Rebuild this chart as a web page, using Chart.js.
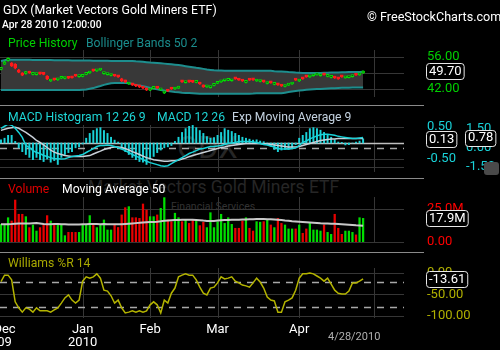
<!DOCTYPE html>
<html>
<head>
<meta charset="utf-8">
<title>GDX</title>
<script src="https://cdn.jsdelivr.net/npm/chart.js@4.4.1/dist/chart.umd.min.js"></script>
<style>
  html, body { margin: 0; padding: 0; background: #000; }
  #wrap { position: relative; width: 500px; height: 350px; overflow: hidden; background: #000;
          font-family: Roboto, "Liberation Sans", Arial, sans-serif; }
  #wrap canvas { position: absolute; left: 0; top: 0; }
  .t { position: absolute; white-space: nowrap; line-height: 1; }
  .sep { position: absolute; left: 0; width: 424px; height: 1px; background: #8a8a8a; }
  .wm { position: absolute; white-space: nowrap; line-height: 1; color: #262626; }
</style>
</head>
<body>
<div id="wrap">
  <!-- watermarks sit under the plots -->
  <div class="wm" style="left:177px; top:132px; font-size:31px;">GDX</div>
  <div class="wm" style="left:88px; top:179px; font-size:17.5px;">Market Vectors Gold Miners ETF</div>
  <div class="wm" style="left:171px; top:202px; font-size:10.5px; color:#333;">Financial Services</div>

  <canvas id="cPrice" width="500" height="350"></canvas>
  <canvas id="cMacd" width="500" height="350"></canvas>
  <canvas id="cVol" width="500" height="350"></canvas>
  <canvas id="cWill" width="500" height="350"></canvas>

  <div class="t" style="left:3px; top:4px; font-size:12.4px; color:#fff;">GDX (Market Vectors Gold Miners ETF)</div>
  <div class="t" style="left:2px; top:20px; font-size:10.3px; color:#fff; font-weight:500;">Apr 28 2010 12:00:00</div>
  <div class="t" style="left:367px; top:11px; font-size:12.6px; color:#fff;">&copy; FreeStockCharts.com</div>

  <div class="t" style="left:8px; top:37px; font-size:12.2px; color:#00d000;">Price History</div>
  <div class="t" style="left:86px; top:37px; font-size:12.2px; color:#1a8c8c;">Bollinger Bands 50 2</div>

  <div class="t" style="left:8px; top:111px; font-size:12.2px; color:#1ed6d6;">MACD Histogram 12 26 9</div>
  <div class="t" style="left:157px; top:111px; font-size:12.2px; color:#1ed6d6;">MACD 12 26</div>
  <div class="t" style="left:232px; top:111px; font-size:12.2px; color:#c4d2e0;">Exp Moving Average 9</div>

  <div class="t" style="left:8px; top:183px; font-size:12.2px; color:#e00000;">Volume</div>
  <div class="t" style="left:62px; top:183px; font-size:12.2px; color:#fff;">Moving Average 50</div>

  <div class="t" style="left:8px; top:257px; font-size:12.2px; color:#a8a800;">Williams %R 14</div>

  <div class="sep" style="top:105px;"></div>
  <div class="sep" style="top:178px;"></div>
  <div class="sep" style="top:252px;"></div>

  <div style="position:absolute; left:484px; top:162px; width:15px; height:13px; background:#4a4a4a; border-radius:3px;"></div>
</div>

<script>
// ── Daily bars, Nov 30 2009 → Apr 28 2010 (index = trading day) ──
const openPx  = [50.6,52.9,54.5,53.2,52.8,50.2,48.9,48.8,49.5,48.4, 48.3,48.9,48.7,47.6,45.5,46.3,46.0,46.7,46.6,47.0,
                 47.1,47.9,47.4,47.5,48.4,49.0,50.1,49.9,50.3,48.7, 48.3,47.9,48.0,47.6,46.4,45.6,44.2,44.3,43.7,43.3,
                 43.0,42.2,41.5,42.3,42.8,41.6,40.3,41.5,42.3,42.0, 42.4,45.4,44.8,45.3,45.3,44.9,44.8,43.6,42.9,42.6,
                 43.6,44.5,45.1,45.6,45.8,45.6,46.6,46.3,45.9,44.9, 46.1,46.2,45.5,45.3,45.5,44.4,45.0,44.0,44.3,43.8,
                 43.1,43.7,44.2,46.2,45.5,46.7,47.6,47.3,47.8,48.2, 47.8,48.5,47.5,47.1,47.4,46.8,47.5,46.9,47.0,47.4,
                 48.3,48.2,49.0];
const highPx  = [51.5,54.2,55.6,53.6,53.1,50.6,49.2,49.7,49.8,48.9, 48.8,49.1,48.9,47.9,46.2,46.6,46.7,47.5,47.0,47.2,
                 47.3,48.1,47.8,48.0,49.2,49.7,50.3,50.5,51.0,49.3, 48.9,48.4,48.2,47.8,46.7,45.9,44.9,44.5,43.9,43.5,
                 43.2,42.4,42.3,43.1,43.0,42.3,41.0,41.7,42.5,42.7, 43.2,45.7,45.3,45.5,45.5,45.4,45.0,43.8,43.6,43.2,
                 44.4,45.3,45.8,46.1,46.2,46.1,46.8,46.5,46.1,45.4, 46.3,46.4,46.0,45.8,45.7,44.9,45.2,44.4,44.5,44.0,
                 43.7,44.4,44.8,46.4,46.1,46.9,47.8,47.9,48.3,48.8, 48.3,48.7,47.9,47.5,47.6,47.0,47.7,47.4,47.5,47.9,
                 48.5,48.8,49.9];
const lowPx   = [50.4,52.7,54.2,51.8,50.8,49.1,47.8,48.5,48.8,48.2, 48.1,48.4,48.2,46.1,45.3,45.8,45.8,46.5,46.4,46.5,
                 46.7,47.5,47.2,47.3,48.2,48.8,49.7,49.7,50.1,48.5, 48.1,47.7,47.5,47.1,45.2,44.8,44.0,43.5,43.0,42.6,
                 42.1,41.3,41.3,42.1,42.2,41.4,40.0,40.9,41.8,41.8, 42.2,44.9,44.6,44.9,44.8,44.7,44.0,42.7,42.7,42.4,
                 43.4,44.3,44.9,45.4,45.6,45.4,46.2,45.7,45.3,44.7, 45.7,45.8,45.3,45.1,44.9,44.2,44.5,43.8,43.6,43.1,
                 42.9,43.5,44.0,45.7,45.3,46.2,47.1,47.1,47.6,48.0, 47.6,48.0,47.3,46.9,46.6,46.2,47.1,46.7,46.8,47.2,
                 47.9,48.0,48.8];
const closePx = [51.2,53.8,55.1,52.1,51.2,49.4,48.1,49.4,49.0,48.6, 48.5,48.6,48.4,46.4,45.9,46.0,46.4,47.3,46.8,46.7,
                 46.9,47.7,47.6,47.8,49.0,49.4,49.9,50.3,50.8,49.0, 48.6,48.1,47.7,47.3,45.5,45.1,44.6,43.8,43.3,42.9,
                 42.4,41.6,42.0,42.9,42.4,42.0,40.7,41.1,42.0,42.4, 42.9,45.1,45.0,45.1,45.0,45.2,44.2,42.9,43.3,42.9,
                 44.2,45.1,45.5,45.9,46.0,45.8,46.4,45.9,45.5,45.1, 45.9,46.0,45.8,45.5,45.1,44.6,44.7,44.2,43.8,43.3,
                 43.4,44.2,44.6,45.9,45.9,46.4,47.3,47.7,48.1,48.6, 48.1,48.2,47.7,47.3,46.8,46.4,47.3,47.2,47.3,47.7,
                 48.1,48.6,49.7];

// Bollinger Bands 50 2
const bbUpper = [54.25,54.56,54.9,54.85,54.8,54.8,54.8,54.75,54.75,54.7, 54.7,54.7,54.68,54.66,54.64,54.62,54.6,54.58,54.56,54.54,
                 54.52,54.5,54.48,54.46,54.44,54.42,54.4,54.38,54.36,54.34, 54.32,54.3,54.3,54.28,54.27,54.26,54.25,54.25,54.1,54.0,
                 53.9,53.75,53.6,53.5,53.4,53.25,53.1,52.95,52.8,52.65, 52.5,52.25,52.0,51.75,51.5,51.25,51.05,50.8,50.5,50.35,
                 50.2,50.1,50.05,50.0,50.0,50.0,50.0,50.0,50.0,50.0, 50.0,49.95,49.95,49.95,49.95,49.95,49.95,49.8,49.7,49.65,
                 49.6,49.4,49.3,49.2,49.15,49.05,49.0,49.0,49.0,49.0, 49.05,49.1,49.15,49.2,49.2,49.25,49.3,49.35,49.4,49.4,
                 49.45,49.45,49.5];
const bbLower = [41.6,41.6,41.6,41.6,41.6,41.6,41.6,41.6,41.6,41.6, 41.6,41.6,41.6,41.6,41.6,41.6,41.6,41.6,41.6,41.6,
                 41.6,41.6,41.6,41.7,41.8,42.1,42.4,42.9,43.3,43.8, 44.2,44.5,44.6,44.6,44.6,44.6,44.5,44.2,43.8,43.5,
                 43.2,42.9,42.5,42.2,41.9,41.6,41.3,41.1,40.9,40.7, 40.55,40.4,40.3,40.25,40.15,40.05,39.95,39.95,39.95,39.95,
                 39.95,39.95,39.95,39.95,39.95,39.95,39.95,39.95,39.95,39.95, 39.95,40.0,40.1,40.1,40.1,40.1,40.1,40.1,40.1,40.1,
                 40.4,40.7,40.9,41.1,41.3,41.5,41.65,41.8,41.9,41.95, 42.0,42.1,42.2,42.3,42.3,42.4,42.5,42.6,42.6,42.65,
                 42.65,42.7,42.7];

// MACD 12 26 9
const macdHist = [0.1,0.15,0.24,0.24,0.05,-0.15,-0.27,-0.36,-0.45,-0.52, -0.45,-0.52,-0.58,-0.5,-0.6,-0.55,-0.67,-0.45,-0.36,-0.3,
                  -0.27,-0.15,-0.12,-0.03,0.15,0.3,0.39,0.45,0.48,0.39, 0.3,0.18,0.09,0.03,-0.15,-0.27,-0.36,-0.45,-0.52,-0.58,
                  -0.6,-0.67,-0.5,-0.42,-0.3,-0.22,-0.15,-0.12,-0.08,0.05, 0.18,0.33,0.45,0.52,0.55,0.48,0.39,0.3,0.2,0.15,
                  0.17,0.24,0.33,0.45,0.4,0.36,0.3,0.24,0.18,0.15, 0.12,0.09,0.1,0.06,0.04,-0.05,-0.1,-0.2,-0.27,-0.22,
                  -0.2,-0.2,-0.15,-0.05,0.15,0.24,0.33,0.45,0.48,0.45, 0.4,0.33,0.27,0.18,0.1,0.03,0.02,-0.06,-0.05,0,
                  0.03,0.06,0.13];
const macdLine = [1.5,1.66,1.82,1.74,1.5,1.18,0.79,0.16,0,-0.24, -0.39,-0.47,-0.63,-0.71,-0.79,-0.87,-0.87,-0.9,-0.87,-0.79,
                  -0.71,-0.67,-0.63,-0.55,-0.39,-0.24,-0.08,0.08,0.16,0.16, 0.2,0.16,0.08,0,-0.12,-0.24,-0.39,-0.55,-0.67,-0.79,
                  -0.95,-1.07,-1.18,-1.26,-1.34,-1.42,-1.46,-1.42,-1.26,-1.1, -0.95,-0.79,-0.63,-0.47,-0.36,-0.24,-0.12,-0.08,0,0.08,
                  0.08,0.12,0.16,0.24,0.32,0.36,0.39,0.47,0.47,0.47, 0.47,0.43,0.39,0.32,0.24,0.2,0.12,0.04,-0.08,-0.12,
                  -0.12,-0.12,-0.08,-0.04,0.16,0.39,0.51,0.67,0.79,0.91, 0.99,1.03,1.03,0.99,0.95,0.87,0.83,0.79,0.75,0.71,
                  0.71,0.75,0.78];
const macdSignal = [1.34,1.42,1.5,1.54,1.58,1.5,1.34,1.18,0.99,0.79, 0.55,0.39,0.2,0,-0.2,-0.36,-0.47,-0.55,-0.63,-0.67,
                    -0.71,-0.71,-0.71,-0.71,-0.67,-0.63,-0.51,-0.39,-0.28,-0.16, -0.08,0,0.04,0.04,0,-0.08,-0.2,-0.32,-0.43,-0.55,
                    -0.67,-0.79,-0.87,-0.95,-0.99,-1.03,-1.07,-1.07,-1.03,-1.03, -0.99,-0.9,-0.83,-0.71,-0.63,-0.55,-0.47,-0.39,-0.32,-0.24,
                    -0.16,-0.08,0,0.04,0.12,0.16,0.2,0.24,0.28,0.32, 0.32,0.32,0.32,0.32,0.28,0.28,0.24,0.2,0.16,0.12,
                    0.08,0.04,0.04,0.04,0.08,0.16,0.24,0.32,0.39,0.47, 0.55,0.59,0.63,0.67,0.67,0.71,0.71,0.71,0.71,0.71,
                    0.71,0.71,0.71];

// Volume (millions) and its 50-day average
const volume = [13.4,12.9,18.4,15.9,31.8,21.0,21.0,19.2,10.9,12.9, 8.3,10.9,12.9,20.0,15.9,12.9,14.1,12.9,4.8,7.3,
                7.3,7.3,7.3,12.9,13.4,20.0,12.9,10.9,12.9,16.7, 9.1,9.1,13.4,11.0,20.5,26.0,26.8,18.4,18.4,17.9,
                28.8,24.2,19.2,19.2,20.5,25.5,33.6,16.7,15.4,21.8, 18.4,15.4,16.7,14.1,16.7,15.9,12.4,15.0,10.9,22.2,
                10.9,15.4,21.0,14.1,18.4,13.4,10.4,10.4,15.9,18.4, 10.4,8.3,15.4,15.0,15.4,16.7,12.9,10.9,17.9,14.1,
                12.9,9.9,9.9,9.9,12.9,6.6,9.9,14.1,9.1,9.1, 8.3,12.9,7.3,5.8,21.0,10.4,5.8,8.3,8.3,7.3,
                5.4,18.4,17.9];
const volumeMa = [13.4,13.4,13.5,13.6,13.9,14.0,14.1,14.1,14.1,14.2, 14.3,14.0,13.6,13.5,13.5,13.6,13.6,13.5,13.4,13.3,
                  13.3,13.3,13.3,13.4,13.5,13.6,13.7,13.6,13.5,13.6, 13.5,13.4,13.4,13.4,13.5,13.7,13.9,14.1,14.3,14.5,
                  14.8,15.0,15.1,15.2,15.4,15.7,16.1,16.3,16.5,16.6, 16.7,16.8,16.8,16.8,16.8,16.7,16.5,16.2,16.0,15.9,
                  16.0,16.2,16.4,16.6,16.7,16.8,16.9,16.9,17.0,17.1, 17.2,17.3,17.4,17.4,17.4,17.3,17.2,17.0,16.8,16.6,
                  16.3,16.1,15.8,15.6,15.4,15.2,15.0,14.8,14.6,14.4, 14.2,14.1,14.0,13.9,13.8,13.6,13.4,13.2,13.0,12.8,
                  12.6,12.5,12.4];

// Williams %R 14
const williamsR = [-20,-5,-5,-16,-67,-81,-91,-81,-84,-91, -81,-88,-88,-88,-91,-86,-81,-70,-58,-51,
                   -63,-70,-63,-19,-9,-12,-9,-2,-12,-40, -42,-53,-70,-63,-81,-93,-91,-88,-91,-88,
                   -91,-88,-74,-67,-74,-93,-63,-70,-47,-35, -9,-5,-2,-5,-5,-16,-33,-47,-51,-35,
                   -33,-23,-9,-14,-12,-9,-19,-23,-28,-30, -33,-23,-12,-21,-35,-56,-63,-65,-91,-91,
                   -67,-63,-58,-40,-12,-2,-2,0,-2,-7, -12,-19,-12,-26,-40,-47,-49,-49,-42,-23,
                   -23,-19,-13.61];

// Axis marks: first trading day of each month
const monthTicks  = [1, 23, 42, 61, 84];
const monthNames  = ['Dec', 'Jan', 'Feb', 'Mar', 'Apr'];
const monthYears  = ['09', '2010', '', '', ''];
const monthGrid   = [23, 42, 61, 84, 105];
const lastDate    = '4/28/2010';

const X_MIN = -0.28, X_MAX = 113.52;   // leaves empty room after the last bar

const GREEN = '#00e000', RED = '#ff1a1a', CYAN = '#19d2d8';
const GRID = '#363636', DASH = '#a8a8a8';

const pts = arr => arr.map((v, i) => ({ x: i, y: v }));
const isUp = closePx.map((c, i) => c >= openPx[i]);

// ── grid lines + right-hand value labels ─────────────────────
const panelDecor = {
    id: 'panelDecor',
    beforeDatasetsDraw(chart, args, opts) {
        const { ctx, chartArea: a, scales } = chart;
        ctx.save();
        ctx.lineWidth = 1;
        ctx.strokeStyle = GRID;
        monthGrid.forEach(i => {
            const x = Math.round(scales.x.getPixelForValue(i)) + 0.5;
            ctx.beginPath(); ctx.moveTo(x, a.top); ctx.lineTo(x, a.bottom); ctx.stroke();
        });
        (opts.hlines || []).forEach(l => {
            const y = Math.round(scales[l.axis].getPixelForValue(l.value)) + 0.5;
            ctx.strokeStyle = l.color || GRID;
            ctx.lineWidth = l.width || 1;
            ctx.setLineDash(l.dash || []);
            ctx.beginPath(); ctx.moveTo(a.left, y); ctx.lineTo(a.right, y); ctx.stroke();
        });
        ctx.restore();
    },
    afterDraw(chart, args, opts) {
        const { ctx, scales } = chart;
        ctx.save();
        ctx.font = '13px Roboto, "Liberation Sans", sans-serif';
        ctx.textBaseline = 'middle';
        ctx.textAlign = 'left';
        const labels = opts.labels || [];
        labels.filter(l => !l.boxed).forEach(l => {
            ctx.fillStyle = l.color;
            ctx.fillText(l.text, l.x, scales[l.axis].getPixelForValue(l.value));
        });
        labels.filter(l => l.boxed).forEach(l => {
            const y = scales[l.axis].getPixelForValue(l.value);
            const w = ctx.measureText(l.text).width + 5, h = 16;
            const x0 = l.x - 0.5, y0 = Math.round(y - h / 2) + 0.5;
            ctx.beginPath();
            ctx.roundRect(x0, y0, w, h, 3);
            ctx.fillStyle = '#000';
            ctx.fill();
            ctx.strokeStyle = '#e8e8e8';
            ctx.lineWidth = 1;
            ctx.stroke();
            ctx.fillStyle = '#fff';
            ctx.fillText(l.text, l.x + 2, y + 0.5);
        });
        if (opts.dates) {
            ctx.fillStyle = '#fff';
            ctx.textAlign = 'center';
            monthTicks.forEach((i, k) => {
                const x = scales.x.getPixelForValue(i);
                ctx.fillText(monthNames[k], x, 330);
                if (monthYears[k]) ctx.fillText(monthYears[k], x, 343);
            });
            ctx.font = '11px Roboto, "Liberation Sans", sans-serif';
            ctx.fillStyle = '#b0b0b0';
            ctx.textAlign = 'left';
            ctx.fillText(lastDate, 328, 337);
        }
        ctx.restore();
    }
};

const xScale = { type: 'linear', min: X_MIN, max: X_MAX, display: false, offset: false };

function panel(id, area, datasets, scales, decor) {
    return new Chart(document.getElementById(id), {
        type: 'bar',
        data: { datasets },
        options: {
            responsive: false,
            animation: false,
            events: [],
            layout: { padding: { left: 0, right: 500 - area.right, top: area.top, bottom: 350 - area.bottom } },
            scales: Object.assign({ x: xScale }, scales),
            plugins: { legend: { display: false }, tooltip: { enabled: false }, panelDecor: decor }
        },
        plugins: [panelDecor]
    });
}

// ── Price History + Bollinger Bands ─────────────────────────
panel('cPrice', { top: 50, bottom: 97, right: 404 }, [
    { type: 'bar', data: closePx.map((c, i) => ({ x: i, y: [lowPx[i], highPx[i]] })),
      backgroundColor: isUp.map(u => u ? GREEN : RED), barThickness: 1, grouped: false, order: 2 },
    { type: 'bar', data: closePx.map((c, i) => ({ x: i, y: [openPx[i], c] })),
      backgroundColor: isUp.map(u => u ? '#1c1c1c' : RED),
      borderColor: isUp.map(u => u ? GREEN : RED),
      borderWidth: 1, borderSkipped: false, barThickness: 3, minBarLength: 2, grouped: false, order: 1 },
    { type: 'line', data: pts(bbUpper), borderColor: '#1d8e8e', borderWidth: 2, pointRadius: 0, fill: false, order: 3 },
    { type: 'line', data: pts(bbLower), borderColor: '#1d8e8e', borderWidth: 2, pointRadius: 0,
      fill: '-1', backgroundColor: '#383838', order: 3 }
], {
    y: { min: 38.5, max: 59.0625, display: false }
}, {
    hlines: [{ axis: 'y', value: 56 }, { axis: 'y', value: 49 }, { axis: 'y', value: 42 }],
    labels: [
        { axis: 'y', value: 56, text: '56.00', color: '#00d000', x: 427 },
        { axis: 'y', value: 42, text: '42.00', color: '#00d000', x: 427 },
        { axis: 'y', value: closePx[closePx.length - 1], text: closePx[closePx.length - 1].toFixed(2), x: 427, boxed: true }
    ]
});

// ── MACD histogram + MACD / signal lines ────────────────────
panel('cMacd', { top: 125, bottom: 172, right: 404 }, [
    { type: 'bar', yAxisID: 'yH', data: pts(macdHist), backgroundColor: CYAN, barThickness: 1.3, grouped: false, order: 3 },
    { type: 'line', yAxisID: 'yM', data: pts(macdSignal), borderColor: '#c8d0d8', borderWidth: 1.5, pointRadius: 0, order: 2 },
    { type: 'line', yAxisID: 'yM', data: pts(macdLine), borderColor: CYAN, borderWidth: 1.5, pointRadius: 0, order: 1 }
], {
    yH: { min: -0.906, max: 0.5625, display: false },
    yM: { min: -1.914, max: 1.758, display: false }
}, {
    hlines: [
        { axis: 'yH', value: 0.5 }, { axis: 'yH', value: -0.5 }, { axis: 'yM', value: -1.5 },
        { axis: 'yH', value: 0, color: '#c0c0c0', width: 1.5 },
        { axis: 'yM', value: 0, color: DASH, width: 1.5, dash: [7, 6] }
    ],
    labels: [
        { axis: 'yH', value: 0.5, text: '0.50', color: CYAN, x: 427 },
        { axis: 'yH', value: -0.5, text: '-0.50', color: CYAN, x: 427 },
        { axis: 'yM', value: 1.5, text: '1.50', color: CYAN, x: 466 },
        { axis: 'yM', value: 0, text: '0.00', color: CYAN, x: 466 },
        { axis: 'yM', value: -1.5, text: '-1.50', color: CYAN, x: 466 },
        { axis: 'yH', value: macdHist[macdHist.length - 1], text: macdHist[macdHist.length - 1].toFixed(2), x: 427, boxed: true },
        { axis: 'yM', value: macdLine[macdLine.length - 1], text: macdLine[macdLine.length - 1].toFixed(2), x: 466, boxed: true }
    ]
});

// ── Volume + 50-day average ─────────────────────────────────
panel('cVol', { top: 197, bottom: 242, right: 404 }, [
    { type: 'bar', data: pts(volume), backgroundColor: isUp.map(u => u ? '#00dd00' : '#e80000'),
      barThickness: 1.6, grouped: false, order: 2 },
    { type: 'line', data: pts(volumeMa), borderColor: '#c8c8c8', borderWidth: 2, pointRadius: 0, order: 1 }
], {
    y: { min: 0, max: 34.09, display: false }
}, {
    hlines: [{ axis: 'y', value: 25 }, { axis: 'y', value: 0 }],
    labels: [
        { axis: 'y', value: 25, text: '25.0M', color: '#ff0000', x: 427 },
        { axis: 'y', value: 0, text: '0.00', color: '#ff0000', x: 427 },
        { axis: 'y', value: volume[volume.length - 1], text: volume[volume.length - 1].toFixed(1) + 'M', x: 427, boxed: true }
    ]
});

// ── Williams %R ─────────────────────────────────────────────
panel('cWill', { top: 268, bottom: 318, right: 404 }, [
    { type: 'line', data: pts(williamsR), borderColor: '#b4b400', borderWidth: 1.5, pointRadius: 0 }
], {
    y: { min: -104.65, max: 11.6, display: false }
}, {
    hlines: [
        { axis: 'y', value: 0 }, { axis: 'y', value: -50 }, { axis: 'y', value: -100 },
        { axis: 'y', value: -20, color: DASH, width: 1.5, dash: [7, 6] },
        { axis: 'y', value: -80, color: DASH, width: 1.5, dash: [7, 6] }
    ],
    labels: [
        { axis: 'y', value: 0, text: '0.00', color: '#b0b000', x: 427 },
        { axis: 'y', value: -50, text: '-50.00', color: '#b0b000', x: 427 },
        { axis: 'y', value: -100, text: '-100.00', color: '#b0b000', x: 427 },
        { axis: 'y', value: williamsR[williamsR.length - 1], text: williamsR[williamsR.length - 1].toFixed(2), x: 427, boxed: true }
    ],
    dates: true
});
</script>
</body>
</html>
